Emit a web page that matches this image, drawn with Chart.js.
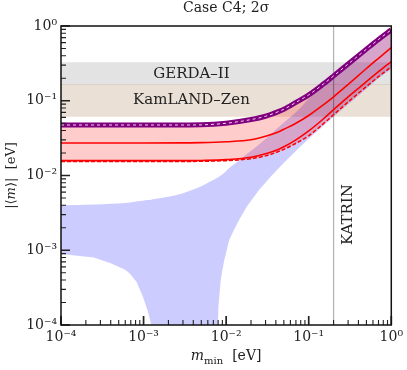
<!DOCTYPE html>
<html><head><meta charset="utf-8">
<script src="https://cdn.jsdelivr.net/npm/chart.js@4.4.1/dist/chart.umd.min.js"></script>
<style>html,body{margin:0;padding:0;background:#fff}</style>
</head><body>
<canvas id="c" width="407" height="370"></canvas>
<script>
// ---- data ----
const tickValues = [1e-4, 1e-3, 1e-2, 1e-1, 1];
const tickLabels = ['10⁻⁴', '10⁻³', '10⁻²', '10⁻¹', '10⁰'];
const gerdaRange = [0.162, 0.327];
const kamlandRange = [0.061, 0.166];
const katrinLimit = 0.2;
const bandLabels = ['GERDA–II', 'KamLAND–Zen', 'KATRIN'];

// normal-ordering (blue) region
const blueX = [1e-4, 2.5e-4, 4e-4, 6e-4, 6.8e-4, 8.2e-4, 9.8e-4, 1.13e-3, 1.24e-3, 1.27e-3, 1.3e-3, 2e-3, 3e-3, 5e-3, 7.8e-3, 7.94e-3, 8.07e-3, 8.6e-3, 9.0e-3, 9.5e-3, 1.09e-2, 1.25e-2, 1.45e-2, 1.8e-2, 2.5e-2, 3.5e-2, 5e-2, 7.5e-2, 0.1, 0.15, 0.2, 0.3, 0.5, 0.7, 1];
const blueUpper = [0.0040, 0.0041, 0.0042, 0.0043, 0.00435, 0.0045, 0.0046, 0.0047, 0.00475, 0.00477, 0.0048, 0.0052, 0.0058, 0.0072, 0.0093, 0.0094, 0.0095, 0.0100, 0.0104, 0.0109, 0.0126, 0.0141, 0.0160, 0.0195, 0.026, 0.036, 0.051, 0.075, 0.106, 0.166, 0.215, 0.31, 0.49, 0.66, 0.89];
const blueLower = [8.9e-4, 8.0e-4, 6.7e-4, 5.5e-4, 4.9e-4, 3.8e-4, 2.4e-4, 1.5e-4, 1.0e-4, 5e-5, 1e-6, 1e-6, 1e-6, 1e-6, 1e-6, 1.0e-4, 1.8e-4, 4.0e-4, 5.4e-4, 7.4e-4, 1.37e-3, 1.9e-3, 2.6e-3, 3.9e-3, 6.4e-3, 9.8e-3, 0.0148, 0.023, 0.031, 0.046, 0.061, 0.09, 0.145, 0.2, 0.265];

// model curves
const curveX = [1e-4, 1e-3, 3e-3, 5e-3, 1e-2, 2e-2, 3e-2, 4.35e-2, 5e-2, 7e-2, 0.1, 0.15, 0.2, 0.3, 0.5, 0.7, 1];
const purpleLine = [0.0474, 0.0474, 0.0474, 0.0476, 0.050, 0.056, 0.062, 0.072, 0.077, 0.095, 0.120, 0.167, 0.215, 0.31, 0.49, 0.66, 0.89];
const redMid = [0.0272, 0.0272, 0.0273, 0.0275, 0.0283, 0.030, 0.0335, 0.0385, 0.0415, 0.050, 0.0635, 0.088, 0.113, 0.165, 0.27, 0.37, 0.515];
const redLow = [0.0158, 0.0158, 0.0158, 0.0159, 0.0163, 0.0175, 0.0195, 0.0225, 0.0242, 0.030, 0.0395, 0.057, 0.076, 0.113, 0.18, 0.245, 0.335];
const redDashed = [0.0154, 0.0154, 0.0154, 0.0155, 0.0158, 0.0168, 0.0183, 0.021, 0.0224, 0.027, 0.034, 0.049, 0.065, 0.096, 0.155, 0.21, 0.285];

// ---- helpers ----
const pts = (xs, ys) => xs.map((x, i) => ({x: x, y: ys[i]}));
const X0 = tickValues[0], X1 = tickValues[tickValues.length - 1];
const SERIF = "'DejaVu Serif', 'Liberation Serif', serif";

const base = {pointRadius: 0, pointHoverRadius: 0, borderWidth: 0, fill: false};

const datasets = [
  // 0 KamLAND-Zen band
  Object.assign({}, base, {label: 'KamLAND-Zen', data: pts([X0, X1], [kamlandRange[1], kamlandRange[1]]),
    fill: {value: kamlandRange[0]}, backgroundColor: 'rgba(150,100,50,0.2)', order: 20}),
  // 1 GERDA-II band
  Object.assign({}, base, {label: 'GERDA-II', data: pts([X0, X1], [gerdaRange[1], gerdaRange[1]]),
    fill: {value: gerdaRange[0]}, backgroundColor: 'rgba(0,0,0,0.11)', order: 21}),
  // 2 blue upper (fills to 3)
  Object.assign({}, base, {label: 'NO upper', data: pts(blueX, blueUpper), fill: 3,
    backgroundColor: 'rgba(0,0,255,0.2)', cubicInterpolationMode: 'monotone', order: 15}),
  // 3 blue lower
  Object.assign({}, base, {label: 'NO lower', data: pts(blueX, blueLower), tension: 0, order: 15}),
  // 4 pink upper (fills to 5)
  Object.assign({}, base, {label: 'band upper', data: pts(curveX, purpleLine), fill: 5,
    backgroundColor: 'rgba(255,0,0,0.2)', cubicInterpolationMode: 'monotone', order: 12}),
  // 5 pink lower
  Object.assign({}, base, {label: 'band lower', data: pts(curveX, redDashed), cubicInterpolationMode: 'monotone', order: 12}),
  // 6 KATRIN
  Object.assign({}, base, {label: 'KATRIN', data: pts([katrinLimit, katrinLimit], [tickValues[0], X1]),
    borderColor: 'rgba(0,0,0,0.3)', borderWidth: 1.2, order: 10}),
  // 7 red dashed
  Object.assign({}, base, {label: 'red dashed', data: pts(curveX, redDashed), borderColor: '#ff0000',
    borderWidth: 1.5, borderDash: [4, 2], cubicInterpolationMode: 'monotone', order: 6}),
  // 8 red low
  Object.assign({}, base, {label: 'red low', data: pts(curveX, redLow), borderColor: '#ff0000',
    borderWidth: 1.6, cubicInterpolationMode: 'monotone', order: 5}),
  // 9 red mid
  Object.assign({}, base, {label: 'red mid', data: pts(curveX, redMid), borderColor: '#ff0000',
    borderWidth: 1.6, cubicInterpolationMode: 'monotone', order: 5}),
  // 10 purple thick
  Object.assign({}, base, {label: 'purple', data: pts(curveX, purpleLine), borderColor: '#800080',
    borderWidth: 5, cubicInterpolationMode: 'monotone', order: 3}),
  // 11 white dashes in purple
  Object.assign({}, base, {label: 'purple dashes', data: pts(curveX, purpleLine), borderColor: 'rgba(255,255,255,0.85)',
    borderWidth: 1, borderDash: [3, 3], cubicInterpolationMode: 'monotone', order: 2})
];

const annot = {
  id: 'annot',
  afterDatasetsDraw(chart) {
    const {ctx, scales: {x, y}} = chart;
    ctx.save();
    ctx.fillStyle = '#222';
    ctx.font = '15px ' + SERIF;
    ctx.textAlign = 'center';
    ctx.textBaseline = 'middle';
    ctx.fillText(bandLabels[0], x.getPixelForValue(3.8e-3), y.getPixelForValue(Math.sqrt(gerdaRange[0] * gerdaRange[1])));
    ctx.fillText(bandLabels[1], x.getPixelForValue(3.8e-3), y.getPixelForValue(Math.sqrt(kamlandRange[0] * kamlandRange[1])));
    ctx.translate(x.getPixelForValue(0.3), y.getPixelForValue(0.003));
    ctx.rotate(-Math.PI / 2);
    ctx.fillText(bandLabels[2], 0, 0);
    ctx.restore();
  },
  afterDraw(chart) {
    const {ctx, chartArea: a, scales: {x, y}} = chart;
    ctx.save();
    // tick marks pointing inwards
    ctx.strokeStyle = '#222';
    for (let e = -4; e <= 0; e++) {
      for (let s = 1; s <= 9; s++) {
        const v = s * Math.pow(10, e);
        if (v > 1.000001) break;
        const major = s === 1;
        ctx.lineWidth = major ? 1.7 : 1.1;
        const len = major ? 9 : 5;
        const px = x.getPixelForValue(v);
        const py = y.getPixelForValue(v);
        ctx.beginPath();
        ctx.moveTo(px, a.bottom); ctx.lineTo(px, a.bottom - len);
        ctx.moveTo(a.left, py); ctx.lineTo(a.left + len, py);
        ctx.stroke();
      }
    }
    // frame
    ctx.lineWidth = 1.5;
    ctx.strokeStyle = '#111';
    ctx.strokeRect(a.left, a.top, a.right - a.left, a.bottom - a.top);

    // x-axis title: m_min [eV]
    const cx = (a.left + a.right) / 2, by = 360;
    const fM = 'italic 14px ' + SERIF, fS = '10px ' + SERIF, fN = '14px ' + SERIF;
    ctx.fillStyle = '#222';
    ctx.textBaseline = 'alphabetic';
    ctx.textAlign = 'left';
    ctx.font = fM; const w1 = ctx.measureText('m').width;
    ctx.font = fS; const w2 = ctx.measureText('min').width;
    ctx.font = fN; const w3 = ctx.measureText('  [eV]').width;
    let sx = cx - (w1 + w2 + w3) / 2;
    ctx.font = fM; ctx.fillText('m', sx, by); sx += w1;
    ctx.font = fS; ctx.fillText('min', sx, by + 4); sx += w2;
    ctx.font = fN; ctx.fillText('  [eV]', sx, by);

    // y-axis title: |<m>| [eV]
    ctx.save();
    ctx.translate(15, (a.top + a.bottom) / 2);
    ctx.rotate(-Math.PI / 2);
    const fY = '13px ' + SERIF, fYi = 'italic 13px ' + SERIF;
    ctx.font = fY; const p1 = ctx.measureText('|⟨').width;
    ctx.font = fYi; const p2 = ctx.measureText('m').width;
    ctx.font = fY; const p3 = ctx.measureText('⟩|  [eV]').width;
    let tx = -(p1 + p2 + p3) / 2;
    ctx.font = fY; ctx.fillText('|⟨', tx, 0); tx += p1;
    ctx.font = fYi; ctx.fillText('m', tx, 0); tx += p2;
    ctx.font = fY; ctx.fillText('⟩|  [eV]', tx, 0);
    ctx.restore();
    ctx.restore();
  }
};

const tickCb = (v) => {
  const i = tickValues.findIndex(t => Math.abs(t - v) / t < 1e-6);
  return i >= 0 ? tickLabels[i] : '';
};
const axisBase = (fitFn) => ({
  type: 'logarithmic', min: tickValues[0], max: X1,
  grid: {display: false, drawTicks: false},
  border: {display: false},
  afterBuildTicks: (s) => { s.ticks = tickValues.map(v => ({value: v})); },
  afterFit: fitFn,
  ticks: {callback: tickCb, autoSkip: false, maxRotation: 0, minRotation: 0, padding: 4,
    color: '#222', font: {family: SERIF, size: 14}},
  title: {display: false}
});

new Chart(document.getElementById('c'), {
  type: 'line',
  data: {datasets: datasets},
  options: {
    responsive: false, animation: false, devicePixelRatio: 1,
    layout: {padding: {left: 0, right: 14, top: 0, bottom: 0}},
    plugins: {
      legend: {display: false}, tooltip: {enabled: false},
      title: {display: true, text: 'Case C4; 2σ', fullSize: false, color: '#222',
        font: {family: SERIF, size: 14, weight: 'normal', lineHeight: 1.2},
        padding: {top: 0, bottom: 9.2}}
    },
    scales: {
      x: axisBase((s) => { s.height = 45; }),
      y: axisBase((s) => { s.width = 61; })
    }
  },
  plugins: [annot]
});
</script>
</body></html>
